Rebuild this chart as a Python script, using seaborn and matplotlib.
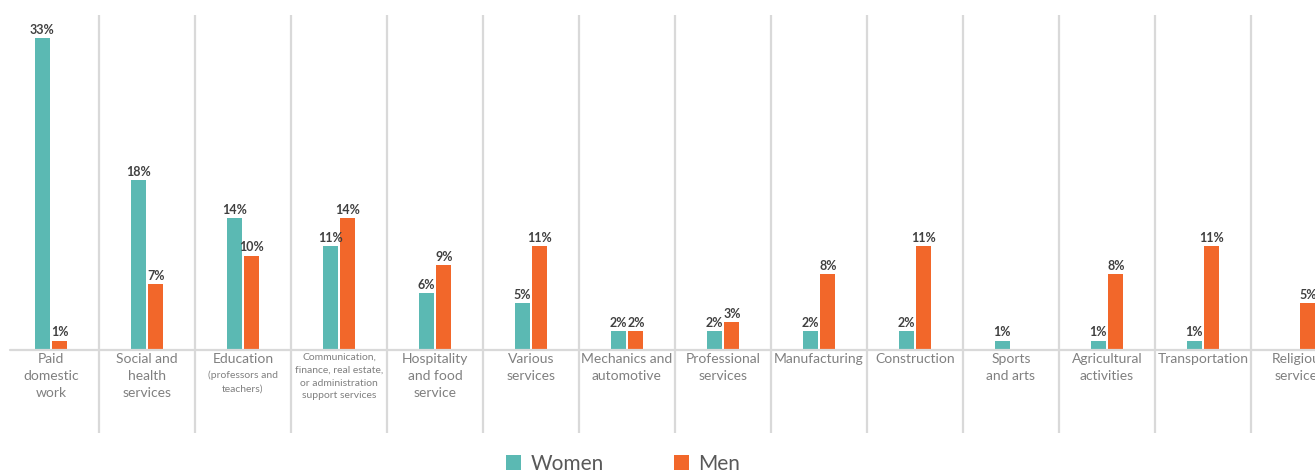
import matplotlib
matplotlib.use("Agg")
import matplotlib.pyplot as plt
import numpy as np
import pandas as pd
import seaborn as sns

# Sector of employment, share of women / men (%)
categories = ["Paid domestic work", "Social and health services", "Education",
              "Communication, finance, real estate, or administration support services",
              "Hospitality and food service", "Various services", "Mechanics and automotive",
              "Professional services", "Manufacturing", "Construction", "Sports and arts",
              "Agricultural activities", "Transportation", "Religious services"]
women = [33, 18, 14, 11, 6, 5, 2, 2, 2, 2, 1, 1, 1, np.nan]
men = [1, 7, 10, 14, 9, 11, 2, 3, 8, 11, np.nan, 8, 11, 5]

# label text under the axis (main line in normal size, sub text smaller)
label_main = ["Paid\ndomestic\nwork", "Social and\nhealth\nservices", "Education", "",
              "Hospitality\nand food\nservice", "Various\nservices", "Mechanics and\nautomotive",
              "Professional\nservices", "Manufacturing", "Construction", "Sports\nand arts",
              "Agricultural\nactivities", "Transportation", "Religious\nservices"]
label_sub = ["", "", "(professors and\nteachers)",
             "Communication,\nfinance, real estate,\nor administration\nsupport services",
             "", "", "", "", "", "", "", "", "", ""]

df = pd.DataFrame({"sector": categories * 2,
                   "share": women + men,
                   "gender": ["Women"] * len(categories) + ["Men"] * len(categories)})

sns.set_theme(style="white")
plt.rcParams["font.family"] = ["Lato", "DejaVu Sans"]

teal = "#5BB9B3"
orange = "#F2672A"
grid = "#D9D9D9"

fig = plt.figure(figsize=(13.15, 4.75), dpi=100)
# 96 px per category, starting just inside the left edge
ax = fig.add_axes([3 / 1315, 42 / 475, 1344 / 1315, 418 / 475])

sns.barplot(data=df, x="sector", y="share", hue="gender", order=categories,
            palette={"Women": teal, "Men": orange}, width=0.37, gap=0.16,
            saturation=1, linewidth=0, ax=ax)

ax.set_xlim(-0.5, len(categories) - 0.5)
ax.set_ylim(-8.78, 35.45)
ax.set_xticks([]); ax.set_yticks([])
ax.set_xlabel(""); ax.set_ylabel("")
sns.despine(ax=ax, left=True, bottom=True)

# separators and baseline
for i in range(len(categories) - 1):
    ax.axvline(i + 0.5, color=grid, lw=1.6, zorder=0)
ax.axhline(0, xmin=7 / 1344, color=grid, lw=1.6, zorder=1)

for c in ax.containers:
    ax.bar_label(c, fmt=lambda v: f"{v:.0f}%" if v > 0 else "", padding=1.5,
                 fontsize=9, fontweight="bold", color="#404040")

for i in range(len(categories)):
    if label_main[i]:
        ax.text(i, -0.35, label_main[i], ha="center", va="top", fontsize=10,
                color="#808080", linespacing=1.5)
        if label_sub[i]:
            ax.text(i, -2.2, label_sub[i], ha="center", va="top", fontsize=7.5,
                    color="#808080", linespacing=1.55)
    else:
        ax.text(i, -0.3, label_sub[i], ha="center", va="top", fontsize=7.5,
                color="#808080", linespacing=1.55)

h, l = ax.get_legend_handles_labels()
ax.get_legend().remove()
fig.legend(h, l, loc="center", bbox_to_anchor=(0.474, 0.024), ncol=2, frameon=False,
           fontsize=15, handlelength=0.7, handleheight=0.7, handletextpad=0.45,
           columnspacing=3.4, labelcolor="#595959")

fig.savefig("out.png", dpi=100)
